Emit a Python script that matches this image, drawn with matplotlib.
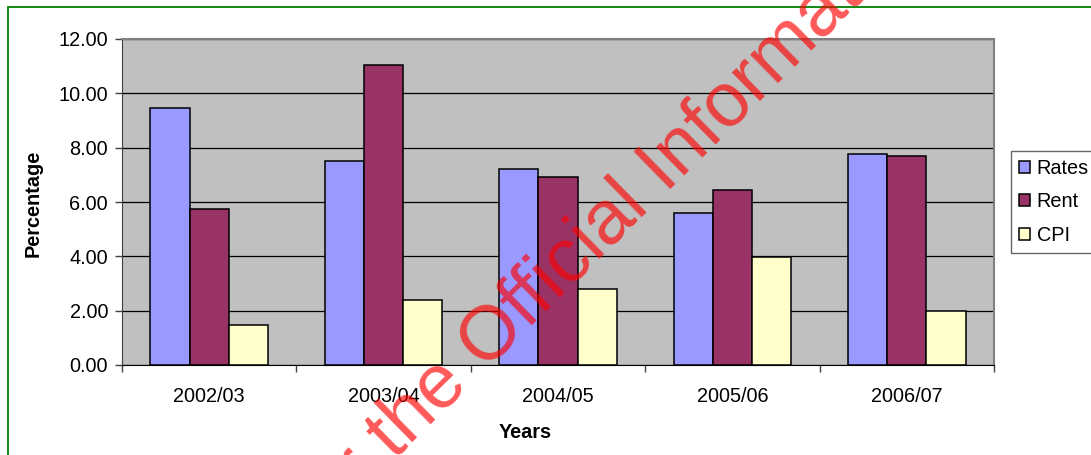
import numpy as np
import matplotlib.pyplot as plt
from matplotlib.patches import Rectangle

plt.rcParams['font.family'] = ['Liberation Sans', 'DejaVu Sans']

# datos
years = ['2002/03', '2003/04', '2004/05', '2005/06', '2006/07']
rates = [9.46, 7.52, 7.21, 5.58, 7.75]
rent = [5.74, 11.05, 6.92, 6.45, 7.69]
cpi = [1.46, 2.40, 2.81, 3.99, 1.99]

series = [('Rates', rates, '#9999ff'),
          ('Rent', rent, '#993366'),
          ('CPI', cpi, '#ffffcc')]

W, H = 1091, 455
fig = plt.figure(figsize=(W / 100, H / 100), dpi=100)
ax = fig.add_axes([122 / W, 1 - 365 / H, (994 - 122) / W, (365 - 39) / H])
ax.set_facecolor('#c0c0c0')

x = np.arange(len(years))
ancho = 0.225
for i, (nombre, vals, color) in enumerate(series):
    ax.bar(x + (i - 1) * ancho, vals, ancho, color=color, edgecolor='black',
           linewidth=1.1, label=nombre, zorder=3)

ax.set_xlim(-0.5, len(years) - 0.5)
ax.set_ylim(0, 12)
ax.set_yticks(np.arange(0, 12.01, 2))
ax.set_yticklabels(['%.2f' % v for v in np.arange(0, 12.01, 2)])
ax.yaxis.grid(True, color='black', linewidth=0.9, zorder=1)
ax.set_axisbelow(True)

ax.set_xticks(x)
ax.set_xticklabels(years)
ax.set_xticks(np.arange(-0.5, len(years)), minor=True)
ax.tick_params(axis='x', which='major', length=0, pad=16, labelsize=14.3)
ax.tick_params(axis='x', which='minor', length=5, width=1, color='#404040',
               direction='out')
ax.tick_params(axis='y', length=5, width=1, color='#404040', pad=5,
               labelsize=14.3)

for lado in ['top', 'right']:
    ax.spines[lado].set_color('#808080')
    ax.spines[lado].set_linewidth(1.5)
ax.spines['left'].set_color('#404040')
ax.spines['bottom'].set_color('black')

fig.text(33 / W, 1 - 203 / H, 'Percentage', rotation=90, ha='center',
         va='center', fontsize=14.3, fontweight='bold')
fig.text(525 / W, 1 - 432 / H, 'Years', ha='center', va='center',
         fontsize=14.3, fontweight='bold')

leg = fig.legend(loc='upper left', bbox_to_anchor=(1011 / W, 1 - 151 / H),
                 frameon=True, fancybox=False, edgecolor='#404040',
                 fontsize=14.3, handlelength=0.55, handleheight=0.55,
                 handletextpad=0.35, labelspacing=0.73, borderpad=0.4,
                 borderaxespad=0)
leg.get_frame().set_linewidth(1.0)

# marco verde
fig.patches.append(Rectangle((8 / W, -0.1), 1.2, 1.1 - 7 / H,
                             transform=fig.transFigure, fill=False,
                             edgecolor='#008000', linewidth=1.3))

# marca de agua
ang = 44.5
tam = 55
x0, y0 = 485, 371
fig.text(x0 / W, 1 - y0 / H, 'Official Information Act', rotation=ang,
         rotation_mode='anchor', ha='left', va='baseline', fontsize=tam,
         color='red', alpha=0.65, zorder=10)
esp = 0.278 * tam * 100 / 72
dx = esp * np.cos(np.radians(ang))
dy = esp * np.sin(np.radians(ang))
fig.text((x0 - dx) / W, 1 - (y0 + dy) / H, 'Released under the',
         rotation=ang, rotation_mode='anchor', ha='right', va='baseline',
         fontsize=tam, color='red', alpha=0.65, zorder=10)

fig.savefig('out.png', dpi=100)
